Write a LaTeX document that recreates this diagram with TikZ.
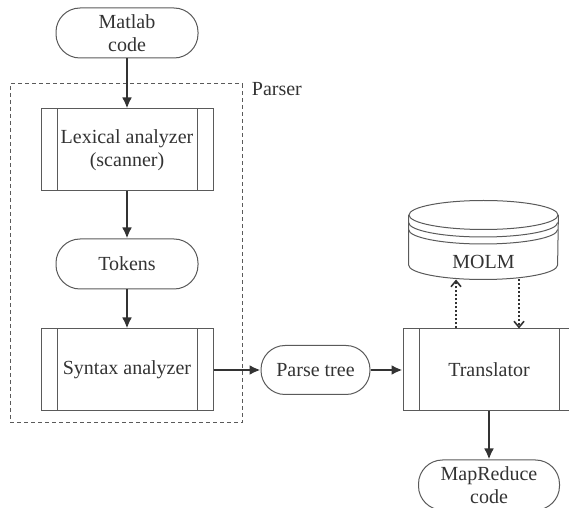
\documentclass[tikz,border=0pt]{standalone}
\usepackage{fontspec}
\setmainfont{Liberation Serif}
\usetikzlibrary{positioning,arrows.meta}
\definecolor{ink}{HTML}{333333}
\definecolor{rule}{HTML}{5A5A5A}
\begin{document}
\begin{tikzpicture}[x=0.5pt, y=-0.5pt, node distance={24pt},
  font=\fontsize{10}{11.5}\selectfont, text=ink,
  term/.style = {draw=rule, line width=0.5pt, rounded corners=12pt, minimum width=71pt, minimum height=25pt, align=center, inner sep=1pt},
  proc/.style = {draw=rule, line width=0.5pt, minimum width=86pt, minimum height=41pt, align=center, inner sep=1pt,
    path picture={\draw[rule, line width=0.5pt]
      ([xshift=8pt]path picture bounding box.north west) -- ([xshift=8pt]path picture bounding box.south west)
      ([xshift=-8pt]path picture bounding box.north east) -- ([xshift=-8pt]path picture bounding box.south east);}},
  parserbox/.style = {draw=rule, line width=0.5pt, dash pattern=on 2pt off 1.5pt, minimum width=116pt, minimum height=169.5pt},
  dbline/.style = {draw=rule, line width=0.5pt},
  flow/.style = {draw=ink, line width=1.2pt, -{Latex[length=5.5pt,width=5pt]}},
  lookup/.style = {draw=ink, line width=1pt, densely dotted, -{Straight Barb[length=3pt,width=5pt,line width=0.8pt]}}]
\useasboundingbox (0,0) rectangle (569,508);

% parser stage
\node[term] (matlab) at (127,33) {Matlab\\code};
\node[proc] (lex) [below=25pt of matlab] {Lexical analyzer\\(scanner)};
\node[term] (tok) [below=23.5pt of lex] {Tokens};
\node[proc] (syn) [below=19.5pt of tok] {Syntax analyzer};
\node[parserbox] (parser) at (126,253.5) {};
\node[anchor=north west, inner sep=0pt, xshift=4.5pt, yshift=0.75pt] (parserlbl) at (parser.north east) {Parser};

% translation stage
\node[term, minimum width=54.5pt, minimum height=24.5pt] (parse) [right=23.5pt of syn] {Parse tree};
\node[proc] (trans) [right=16pt of parse] {Translator};
\node[term, minimum width=70.5pt] (mapred) [below=24pt of trans] {MapReduce\\code};
\node[minimum width=74.5pt, minimum height=17pt, inner sep=0pt] (molm) [above=24.5pt of trans, xshift=-2.75pt] {MOLM};

% database cylinder
\draw[dbline] ([yshift=32.25pt]molm.south) ellipse [x radius=37.25pt, y radius=7.25pt];
\draw[dbline] ([yshift=32.25pt]molm.south west) -- ([yshift=7.25pt]molm.south west)
  arc[start angle=180, end angle=360, x radius=37.25pt, y radius=7.25pt] -- ([yshift=32.25pt]molm.south east);
\draw[dbline] ([yshift=28.5pt]molm.south west) arc[start angle=180, end angle=360, x radius=37.25pt, y radius=7.25pt];
\draw[dbline] ([yshift=25pt]molm.south west) arc[start angle=180, end angle=360, x radius=37.25pt, y radius=7.25pt];

\draw[flow] (matlab) -- (lex);
\draw[flow] (lex) -- (tok);
\draw[flow] (tok) -- (syn);
\draw[flow] (syn) -- (parse);
\draw[flow] (parse) -- (trans);
\draw[flow] (trans) -- (mapred);
\draw[lookup] ([xshift=-16.5pt]trans.north) -- ([xshift=-16.5pt]trans.north |- molm.south);
\draw[lookup] ([xshift=15pt]trans.north |- molm.south) -- ([xshift=15pt]trans.north);
\end{tikzpicture}
\end{document}
